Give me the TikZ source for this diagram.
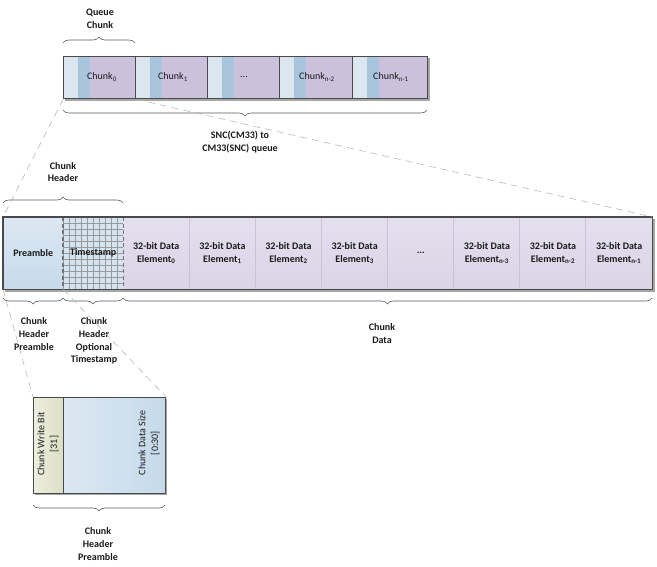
\documentclass[tikz,border=0pt]{standalone}
\usepackage{fontspec}
\setmainfont{Carlito}
\usetikzlibrary{decorations.pathreplacing}
\definecolor{lightb}{HTML}{DCE6EF}
\definecolor{midb}{HTML}{A9C4DD}
\definecolor{purp}{HTML}{CCC1DC}
\definecolor{bord}{HTML}{4A4A4A}
\definecolor{datac}{HTML}{E4E0EE}
\definecolor{datad}{HTML}{DAD4E6}
\definecolor{divc}{HTML}{C9C1DA}
\definecolor{preA}{HTML}{DCE8F3}
\definecolor{preB}{HTML}{C6DAEB}
\definecolor{wbA}{HTML}{EEEFDF}
\definecolor{wbB}{HTML}{DCDFC6}
\definecolor{txt}{HTML}{1A1A1A}
\begin{document}
\begin{tikzpicture}[x=1pt,y=-1pt, font=\fontsize{10}{12.8}\selectfont, text=txt,
  lbl/.style={align=center, font=\fontsize{10}{12.8}\selectfont\bfseries},
  brc/.style={draw=black!65, line width=0.6pt, decorate, decoration={brace, amplitude=6pt}},
  zoomline/.style={draw=black!28, line width=0.6pt, dash pattern=on 7pt off 5pt},
  chunkbox/.style={draw=bord, line width=1.4pt, anchor=north west, inner sep=0pt, minimum height=42pt},
  cellbox/.style={anchor=north west, inner sep=0pt, minimum height=72pt, align=center, font=\fontsize{10}{12.8}\selectfont\bfseries},
  shadow/.style={fill=black!35}
]
\useasboundingbox (0,0) rectangle (657,566);

% ---------- top queue ----------
\fill[shadow] (65,58) rectangle (429.5,100.5);
\foreach \a/\b [count=\i] in {63/135,135/207,207/279,279/352,352/427}{
  \fill[lightb] (\a,56) rectangle (\a+15,98);
  \fill[midb] (\a+15,56) rectangle (\a+27,98);
  \fill[purp] (\a+27,56) rectangle (\b,98);
}
\node[chunkbox, minimum width=72pt] (c0) at (63,56) {};
\node[chunkbox, minimum width=72pt] (c1) at (135,56) {};
\node[chunkbox, minimum width=72pt] (c2) at (207,56) {};
\node[chunkbox, minimum width=73pt] (c3) at (279,56) {};
\node[chunkbox, minimum width=75pt] (c4) at (352,56) {};
\node (t0) at (102,77) {Chunk\textsubscript{0}};
\node (t1) at (173,77) {Chunk\textsubscript{1}};
\node (t2) at (244,77) {...};
\node (t3) at (317,77) {Chunk\textsubscript{n-2}};
\node (t4) at (391,77) {Chunk\textsubscript{n-1}};

\draw[brc] (63,43) -- (135,43);
\node[lbl] (qc) at (100,18.5) {Queue\\Chunk};
\draw[brc] (427,110) -- (63,110);
\node[lbl] (qq) at (240,142) {SNC(CM33) to\\CM33(SNC) queue};

% ---------- main bar ----------
\fill[shadow] (5,219) rectangle (654.5,291.5);
\shade[top color=preA, bottom color=preB] (3,217) rectangle (63,289);
\fill[preA!70!preB] (63,217) rectangle (123,289);
\begin{scope}
  \clip (63,217) rectangle (123,289);
  \foreach \k in {0,...,10} \draw[black!40, line width=0.5pt] (63+6*\k,217) -- (63+6*\k,289);
  \foreach \k in {0,...,12} \draw[black!40, line width=0.5pt] (63,217+6*\k) -- (123,217+6*\k);
\end{scope}
\shade[top color=datac, bottom color=datad] (123,217) rectangle (652,289);
\foreach \k in {1,...,7} \draw[divc, line width=0.8pt] (123+66.125*\k,217) -- (123+66.125*\k,289);

\node[cellbox, minimum width=60pt] (pre) at (3,217) {Preamble};
\node[cellbox, minimum width=60pt] (ts) at (63,217) {Timestamp};
\foreach \k/\lab in {0/{32-bit Data\\Element\textsubscript{0}},1/{32-bit Data\\Element\textsubscript{1}},2/{32-bit Data\\Element\textsubscript{2}},3/{32-bit Data\\Element\textsubscript{3}},4/{...},5/{32-bit Data\\Element\textsubscript{n-3}},6/{32-bit Data\\Element\textsubscript{n-2}},7/{32-bit Data\\Element\textsubscript{n-1}}}
  \node[cellbox, minimum width=66.125pt] (d\k) at (123+66.125*\k,217) {\lab};
\draw[black!55, line width=1.4pt, dash pattern=on 4pt off 2.5pt] (ts.north west) -- (ts.south west) (ts.north east) -- (ts.south east);
\draw[bord, line width=1.4pt] (pre.north west) rectangle (d7.south east);

\draw[brc] (3,203) -- (123,203);
\node[lbl] (ch) at (63,172) {Chunk\\Header};
\draw[brc] (63,298) -- (3,298);
\draw[brc] (123,298) -- (63,298);
\draw[brc] (652,298) -- (123,298);
\node[lbl, anchor=north] (chp) at (34,314) {Chunk\\Header\\Preamble};
\node[lbl, anchor=north] (cht) at (94,314) {Chunk\\Header\\Optional\\Timestamp};
\node[lbl, anchor=north] (cd) at (382,320) {Chunk\\Data};

% zoom connectors
\draw[zoomline] (c0.south west) -- (pre.north west);
\draw[zoomline] (c0.south east) -- (d7.north east);

% ---------- bottom preamble detail ----------
\fill[shadow] (35,399) rectangle (167,495);
\shade[left color=wbA, right color=wbB] (33,397) rectangle (63,493);
\shade[left color=preA, right color=preB] (63,397) rectangle (165,493);
\node[draw=bord, line width=1.2pt, anchor=north west, inner sep=0pt, minimum width=30pt, minimum height=96pt] (wb) at (33,397) {};
\node[draw=bord, line width=1.2pt, anchor=north west, inner sep=0pt, minimum width=102pt, minimum height=96pt] (ds) at (63,397) {};
\node[rotate=90, align=center] (wbt) at (48,444) {Chunk Write Bit\\{[31]}};
\node[rotate=90, align=center] (dst) at (149,443) {Chunk Data Size\\{[0:30]}};

\draw[zoomline] (pre.south west) -- (wb.north west);
\draw[zoomline] (pre.south east) -- (ds.north east);

\draw[brc] (165,505) -- (33,505);
\node[lbl, anchor=north] (bp) at (98,524) {Chunk\\Header\\Preamble};
\end{tikzpicture}
\end{document}
